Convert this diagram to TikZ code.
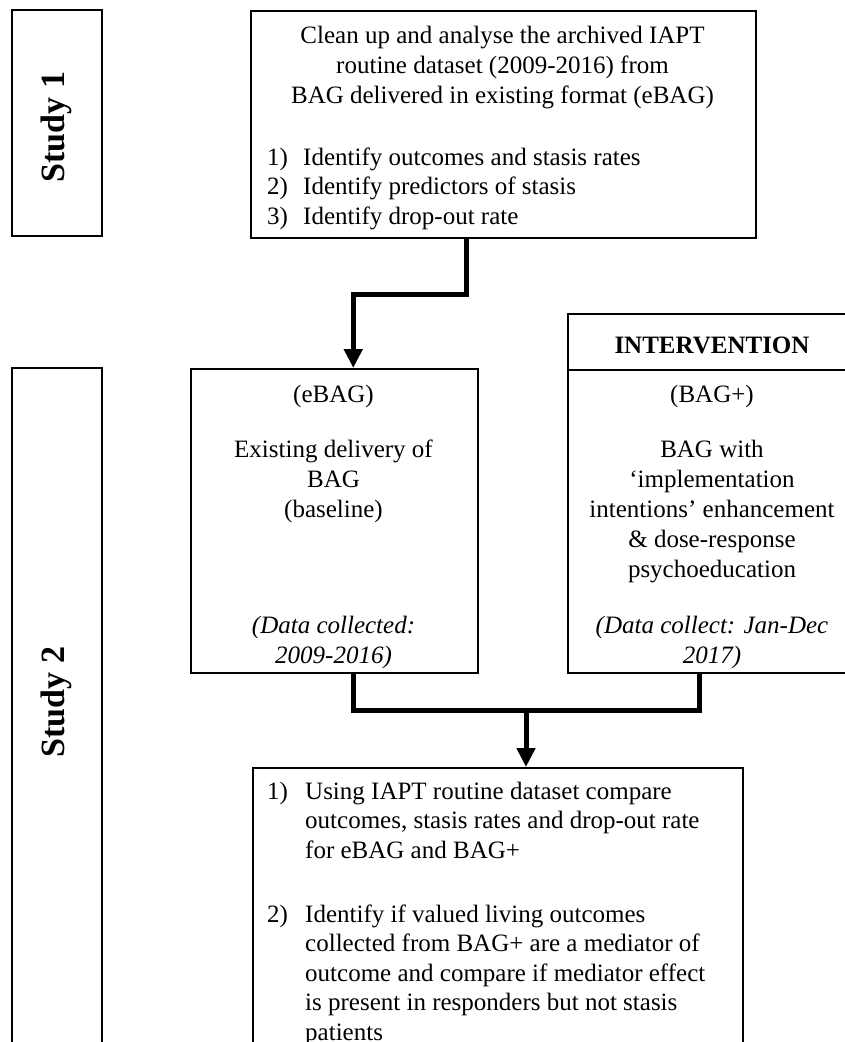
\documentclass[tikz,border=0pt]{standalone}
\usepackage{fontspec}
\setmainfont{Liberation Serif}
\usetikzlibrary{arrows.meta}
\begin{document}
\begin{tikzpicture}[x=1pt,y=-1pt,
  box/.style={draw, line width=1.5pt, inner sep=0pt, anchor=north west},
  txt/.style={inner sep=0pt, anchor=base, align=center, font=\fontsize{25}{30}\selectfont},
  itxt/.style={txt, font=\fontsize{25}{30}\selectfont\itshape},
  ltxt/.style={inner sep=0pt, anchor=base west, align=left, font=\fontsize{25}{29.5}\selectfont},
  lab/.style={inner sep=0pt, rotate=90, font=\fontsize{34}{40}\selectfont\bfseries},
  conn/.style={line width=5pt},
  arr/.style={conn, -{Triangle[length=19pt,width=18pt]}},
]
\path[use as bounding box, fill=white] (0,0) rectangle (845,1042);

% boxes
\node[box, minimum width=90pt, minimum height=226pt] (s1) at (11,9) {};
\node[box, minimum width=505pt, minimum height=227pt] (top) at (250,10) {};
\node[box, minimum width=90pt, minimum height=690pt] (s2) at (11,367) {};
\node[box, minimum width=287pt, minimum height=304pt] (ebag) at (190,368) {};
\node[box, minimum width=290pt, minimum height=56pt] (intvh) at (567,313) {};
\node[box, minimum width=290pt, minimum height=303pt] (intv) at (567,369) {};
\node[box, minimum width=490pt, minimum height=300pt] (bot) at (252,767) {};

% study labels
\node[lab] (s1t) at (56,127) {Study 1};
\node[lab] (s2t) at (56,702) {Study 2};

% top box text (base anchor = baseline of last line)
\node[txt] (topT) at (502.5,103) {Clean up and analyse the archived IAPT\\routine dataset (2009-2016) from\\BAG delivered in existing format (eBAG)};
\node[ltxt] (topN) at (267,224) {1)\\2)\\3)};
\node[ltxt] (topL) at (303,224) {Identify outcomes and stasis rates\\Identify predictors of stasis\\Identify drop-out rate};

% eBAG text
\node[txt] (ebagA) at (333.5,402) {(eBAG)};
\node[txt] (ebagB) at (333.5,517) {Existing delivery of\\BAG\\(baseline)};
\node[itxt] (ebagC) at (333.5,663) {(Data collected:\\2009-2016)};

% intervention text
\node[txt, font=\fontsize{25}{30}\selectfont\bfseries] (intvT) at (712,353) {INTERVENTION};
\node[txt] (intvA) at (712,402) {(BAG+)};
\node[txt] (intvB) at (712,577) {BAG with\\‘implementation\\intentions’ enhancement\\\& dose-response\\psychoeducation};
\node[itxt] (intvC) at (712,663) {(Data collect: Jan-Dec\\2017)};

% bottom box text
\node[ltxt] (botN1) at (267,799) {1)};
\node[ltxt] (botL1) at (305,858) {Using IAPT routine dataset compare\\outcomes, stasis rates and drop-out rate\\for eBAG and BAG+};
\node[ltxt] (botN2) at (267,922) {2)};
\node[ltxt] (botL2) at (305,1040) {Identify if valued living outcomes\\collected from BAG+ are a mediator of\\outcome and compare if mediator effect\\is present in responders but not stasis\\patients};

% connectors
\draw[arr] ([xshift=-36.5pt]top.south) -- ++(0,56) -| ([xshift=19pt]ebag.north);
\draw[conn] ([xshift=19.5pt]ebag.south) -- ++(0,37) -| ([xshift=-13pt]intv.south);
\coordinate (join) at (526,709);
\draw[arr] (join) -- (join |- bot.north);
\end{tikzpicture}
\end{document}
